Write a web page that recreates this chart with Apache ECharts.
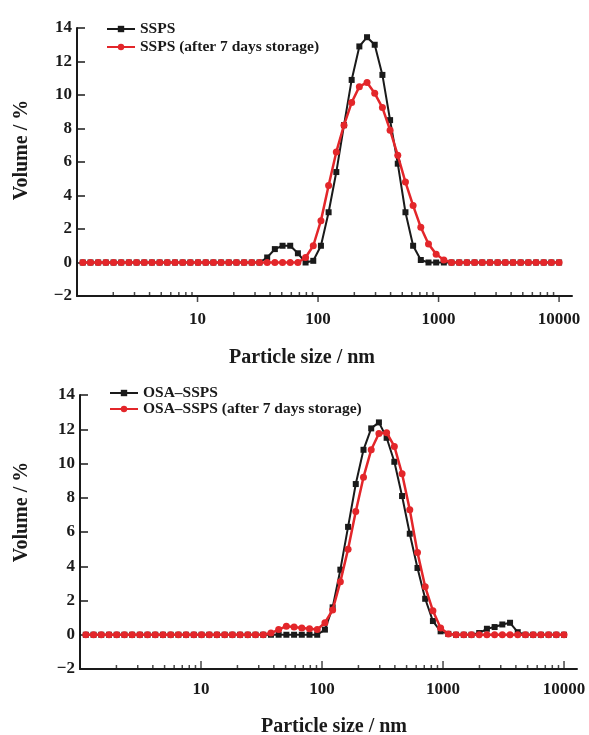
<!DOCTYPE html>
<html>
<head>
<meta charset="utf-8">
<script src="https://cdn.jsdelivr.net/npm/echarts@6/dist/echarts.min.js"></script>
<style>
html, body { margin: 0; padding: 0; background: #fff; }
#chart { width: 589px; height: 735px; }
</style>
</head>
<body>
<div id="chart"></div>
<script>
// size bins in nm (log spaced, as the instrument reports them)
const sizes = [
    1.117, 1.294, 1.499, 1.736, 2.01, 2.328, 2.696, 3.122, 3.615, 4.187, 4.849, 5.615, 6.503, 7.531, 8.721,
    10.1, 11.7, 13.54, 15.69, 18.17, 21.04, 24.36, 28.21, 32.67, 37.84, 43.82, 50.75, 58.77, 68.06, 78.82, 91.28,
    105.7, 122.4, 141.8, 164.2, 190.1, 220.2, 255, 295.3, 342, 396.1, 458.7, 531.2, 615.1, 712.4, 825, 955.4,
    1106, 1281, 1484, 1718, 1990, 2305, 2669, 3091, 3580, 4145, 4801, 5560, 6439, 7456, 8635, 10000
];

// top panel
const ssps = [
    0, 0, 0, 0, 0, 0, 0, 0, 0, 0, 0, 0, 0, 0, 0,
    0, 0, 0, 0, 0, 0, 0, 0, 0, 0.3, 0.8, 1.0, 1.0, 0.55, 0, 0.1,
    1.0, 3.0, 5.4, 8.2, 10.9, 12.9, 13.45, 13.0, 11.2, 8.5, 5.9, 3.0, 1.0, 0.15, 0, 0,
    0, 0, 0, 0, 0, 0, 0, 0, 0, 0, 0, 0, 0, 0, 0, 0
];
const sspsStored = [
    0, 0, 0, 0, 0, 0, 0, 0, 0, 0, 0, 0, 0, 0, 0,
    0, 0, 0, 0, 0, 0, 0, 0, 0, 0, 0, 0, 0, 0, 0.3, 1.0,
    2.5, 4.6, 6.6, 8.2, 9.55, 10.5, 10.75, 10.1, 9.25, 7.9, 6.4, 4.8, 3.4, 2.1, 1.1, 0.5,
    0.15, 0, 0, 0, 0, 0, 0, 0, 0, 0, 0, 0, 0, 0, 0, 0
];

// bottom panel
const osa = [
    0, 0, 0, 0, 0, 0, 0, 0, 0, 0, 0, 0, 0, 0, 0,
    0, 0, 0, 0, 0, 0, 0, 0, 0, 0, 0, 0, 0, 0, 0, 0,
    0.3, 1.6, 3.8, 6.3, 8.8, 10.8, 12.05, 12.4, 11.5, 10.1, 8.1, 5.9, 3.9, 2.1, 0.8, 0.2,
    0.05, 0, 0, 0, 0.1, 0.35, 0.45, 0.6, 0.7, 0.15, 0, 0, 0, 0, 0, 0
];
const osaStored = [
    0, 0, 0, 0, 0, 0, 0, 0, 0, 0, 0, 0, 0, 0, 0,
    0, 0, 0, 0, 0, 0, 0, 0, 0, 0.1, 0.3, 0.5, 0.45, 0.4, 0.35, 0.3,
    0.7, 1.45, 3.1, 5.0, 7.2, 9.2, 10.8, 11.75, 11.8, 11.0, 9.4, 7.3, 4.8, 2.8, 1.4, 0.4,
    0.05, 0, 0, 0, 0, 0, 0, 0, 0, 0, 0, 0, 0, 0, 0, 0
];

const majorTicks = [10, 100, 1000, 10000];
const minorTicks = [
    2, 3, 4, 5, 6, 7, 8, 9,
    20, 30, 40, 50, 60, 70, 80, 90,
    200, 300, 400, 500, 600, 700, 800, 900,
    2000, 3000, 4000, 5000, 6000, 7000, 8000, 9000
];

const ink = '#1a1a1a';
const red = '#e3262a';
const serif = 'Liberation Serif';

function pairs(vals) {
    return sizes.map((s, i) => [s, vals[i]]);
}

function xAxis(idx, margin) {
    return {
        type: 'log', logBase: 10, gridIndex: idx, min: 1, max: 12800,
        axisLine: {onZero: false, lineStyle: {color: ink, width: 2}},
        axisTick: {show: false},
        splitLine: {show: false},
        axisLabel: {
            margin: margin, color: ink, fontFamily: serif, fontWeight: 'bold', fontSize: 17,
            formatter: function (v) {
                const r = Math.round(v);
                return (majorTicks.indexOf(r) >= 0) ? String(r) : '';
            }
        }
    };
}

function yAxis(idx) {
    return {
        type: 'value', gridIndex: idx, min: -2, max: 14, interval: 2,
        axisLine: {show: true, lineStyle: {color: ink, width: 2}},
        axisTick: {show: true, inside: true, length: 8, lineStyle: {color: ink, width: 1.5}},
        splitLine: {show: false},
        axisLabel: {
            margin: 5, color: ink, fontFamily: serif, fontWeight: 'bold', fontSize: 17,
            formatter: v => String(v).replace('-', '\u2212')
        }
    };
}

function curve(name, idx, vals, black) {
    return {
        name: name, type: 'line', xAxisIndex: idx, yAxisIndex: idx,
        data: pairs(vals),
        symbol: black ? 'rect' : 'circle',
        symbolSize: black ? 6 : 7,
        showAllSymbol: true,
        color: black ? ink : red,
        lineStyle: {width: black ? 2 : 2.5, color: black ? ink : red},
        itemStyle: {color: black ? ink : red},
        z: black ? 3 : 4
    };
}

// axis tick marks on the log axis (decade ticks + 2..9 ticks)
function ticks(idx, vals, len, up) {
    return {
        type: 'scatter', xAxisIndex: idx, yAxisIndex: idx, silent: true, clip: false,
        symbol: 'rect', symbolSize: [1.5, len], symbolOffset: [0, up ? -len / 2 : len / 2],
        itemStyle: {color: ink},
        data: vals.map(v => [v, -2]), z: 5
    };
}

function legend(names, left, top, gap) {
    return {
        data: names, left: left, top: top, orient: 'vertical', padding: 0,
        itemWidth: 28, itemHeight: 8, itemGap: gap,
        textStyle: {color: ink, fontFamily: serif, fontWeight: 'bold', fontSize: 15.5, lineHeight: 16}
    };
}

function title(text, x, y, rotate) {
    return {
        type: 'text', x: x, y: y, rotation: rotate ? Math.PI / 2 : 0,
        style: {
            text: text, fill: ink, font: 'bold 20px "Liberation Serif"',
            textAlign: 'center', textVerticalAlign: 'middle'
        }
    };
}

const chart = echarts.init(document.getElementById('chart'));
chart.setOption({
    backgroundColor: '#fff',
    animation: false,
    grid: [
        {left: 77, top: 28, width: 495, height: 268},
        {left: 80, top: 395, width: 497, height: 274}
    ],
    xAxis: [xAxis(0, 15), xAxis(1, 12)],
    yAxis: [yAxis(0), yAxis(1)],
    legend: [
        legend(['SSPS', 'SSPS (after 7 days storage)'], 106, 21, 2),
        legend(['OSA\u2013SSPS', 'OSA\u2013SSPS (after 7 days storage)'], 109, 385, 0)
    ],
    graphic: [
        title('Volume / %', 22, 150, true),
        title('Particle size / nm', 302, 358, false),
        title('Volume / %', 22, 512, true),
        title('Particle size / nm', 334, 727, false)
    ],
    series: [
        curve('SSPS', 0, ssps, true),
        curve('SSPS (after 7 days storage)', 0, sspsStored, false),
        curve('OSA\u2013SSPS', 1, osa, true),
        curve('OSA\u2013SSPS (after 7 days storage)', 1, osaStored, false),
        ticks(0, majorTicks, 6, false),
        ticks(0, minorTicks, 4, true),
        ticks(1, majorTicks, 8, true),
        ticks(1, minorTicks, 4, true)
    ]
});
window.addEventListener('resize', () => chart.resize());
</script>
</body>
</html>
